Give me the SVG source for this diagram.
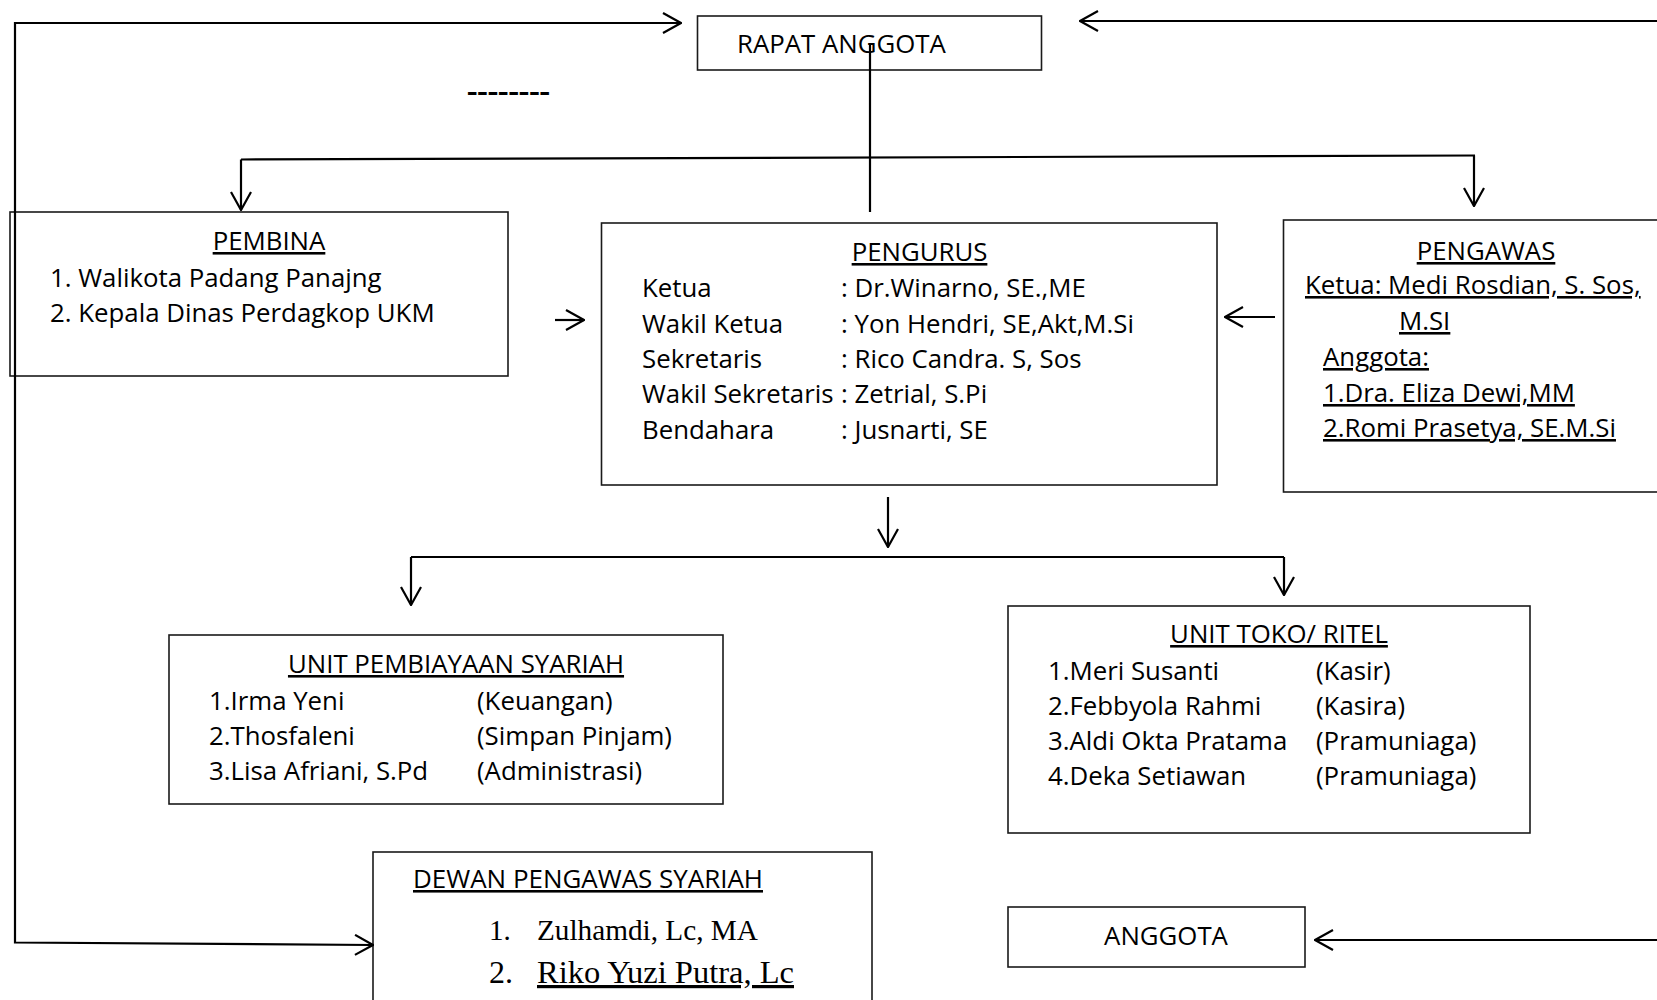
<svg xmlns="http://www.w3.org/2000/svg" width="1657" height="1000" viewBox="0 0 1657 1000">
<defs>
<style>
.box{fill:#fff;stroke:#1a1a1a;stroke-width:1.6}
.t{font-family:"Open Sans","Liberation Sans",sans-serif;font-size:25.8px;fill:#000}
.c{text-anchor:middle}
.u{text-decoration:underline;text-decoration-thickness:2.5px}
.serif{font-family:"Liberation Serif","Times New Roman",serif;fill:#000}
.ln{fill:none;stroke:#000;stroke-width:2.2}
</style>
<marker id="ah" viewBox="0 0 20 22" refX="19" refY="11" markerWidth="20" markerHeight="22" markerUnits="userSpaceOnUse" orient="auto">
<path d="M1,1 L19,11 L1,21" fill="none" stroke="#000" stroke-width="2.2"/>
</marker>
</defs>
<rect width="1657" height="1000" fill="#fff"/>

<g id="rapat-anggota">
<rect class="box" x="697.5" y="16" width="344" height="54"/>
<text class="t" x="737" y="53">RAPAT ANGGOTA</text>
</g>

<g id="pembina">
<rect class="box" x="10" y="212" width="498" height="164"/>
<text class="t c u" x="269" y="250">PEMBINA</text>
<text class="t" x="50" y="287">1. Walikota Padang Panajng</text>
<text class="t" x="50" y="322">2. Kepala Dinas Perdagkop UKM</text>
</g>

<g id="pengurus">
<rect class="box" x="601.5" y="223" width="615.5" height="262"/>
<text class="t c u" x="919.5" y="261">PENGURUS</text>
<text class="t" x="642" y="297">Ketua</text>
<text class="t" x="841" y="297">: Dr.Winarno, SE.,ME</text>
<text class="t" x="642" y="333">Wakil Ketua</text>
<text class="t" x="841" y="333">: Yon Hendri, SE,Akt,M.Si</text>
<text class="t" x="642" y="368">Sekretaris</text>
<text class="t" x="841" y="368">: Rico Candra. S, Sos</text>
<text class="t" x="642" y="403">Wakil Sekretaris</text>
<text class="t" x="841" y="403">: Zetrial, S.Pi</text>
<text class="t" x="642" y="439">Bendahara</text>
<text class="t" x="841" y="439">: Jusnarti, SE</text>
</g>

<g id="pengawas">
<rect class="box" x="1283.5" y="220" width="390" height="272"/>
<text class="t c u" x="1486" y="260">PENGAWAS</text>
<text class="t u" x="1305" y="294">Ketua: Medi Rosdian, S. Sos,</text>
<text class="t u" x="1399" y="330">M.SI</text>
<text class="t u" x="1323" y="366">Anggota:</text>
<text class="t u" x="1323" y="402">1.Dra. Eliza Dewi,MM</text>
<text class="t u" x="1323" y="437">2.Romi Prasetya, SE.M.Si</text>
</g>

<g id="unit-pembiayaan-syariah">
<rect class="box" x="169" y="635" width="554" height="169"/>
<text class="t c u" x="456" y="673">UNIT PEMBIAYAAN SYARIAH</text>
<text class="t" x="209" y="710">1.Irma Yeni</text>
<text class="t" x="477" y="710">(Keuangan)</text>
<text class="t" x="209" y="745">2.Thosfaleni</text>
<text class="t" x="477" y="745">(Simpan Pinjam)</text>
<text class="t" x="209" y="780">3.Lisa Afriani, S.Pd</text>
<text class="t" x="477" y="780">(Administrasi)</text>
</g>

<g id="unit-toko-ritel">
<rect class="box" x="1008" y="606" width="522" height="227"/>
<text class="t c u" x="1279" y="643">UNIT TOKO/ RITEL</text>
<text class="t" x="1048" y="680">1.Meri Susanti</text>
<text class="t" x="1316" y="680">(Kasir)</text>
<text class="t" x="1048" y="715">2.Febbyola Rahmi</text>
<text class="t" x="1316" y="715">(Kasira)</text>
<text class="t" x="1048" y="750">3.Aldi Okta Pratama</text>
<text class="t" x="1316" y="750">(Pramuniaga)</text>
<text class="t" x="1048" y="785">4.Deka Setiawan</text>
<text class="t" x="1316" y="785">(Pramuniaga)</text>
</g>

<g id="dewan-pengawas-syariah">
<rect class="box" x="373" y="852" width="499" height="160"/>
<text class="t u" x="413" y="888" textLength="350" lengthAdjust="spacingAndGlyphs">DEWAN PENGAWAS SYARIAH</text>
<text class="serif" x="489" y="940" font-size="29">1.</text>
<text class="serif" x="537" y="940" font-size="29" textLength="221" lengthAdjust="spacingAndGlyphs">Zulhamdi, Lc, MA</text>
<text class="serif" x="489" y="983" font-size="32">2.</text>
<text class="serif u" x="537" y="983" font-size="32" textLength="257" lengthAdjust="spacingAndGlyphs">Riko Yuzi Putra, Lc</text>
</g>

<g id="anggota">
<rect class="box" x="1008" y="907" width="297" height="60"/>
<text class="t c" x="1166" y="945">ANGGOTA</text>
</g>

<g id="dashes">
<text class="t" x="467" y="100" font-weight="bold" textLength="83" lengthAdjust="spacingAndGlyphs">--------</text>
</g>

<g id="connectors">
<path class="ln" d="M15,480 V23 H681" marker-end="url(#ah)"/>
<path class="ln" d="M15,480 V942.5 L373,945" marker-end="url(#ah)"/>
<path class="ln" d="M1657,21 H1080" marker-end="url(#ah)"/>
<path class="ln" d="M870,43 V212"/>
<path class="ln" d="M241,159.5 L1475,155.5"/>
<path class="ln" d="M241,159.5 V210" marker-end="url(#ah)"/>
<path class="ln" d="M1474,155.5 V206" marker-end="url(#ah)"/>
<path class="ln" d="M555,320 H584" marker-end="url(#ah)"/>
<path class="ln" d="M1275,317 H1225" marker-end="url(#ah)"/>
<path class="ln" d="M888,497 V547" marker-end="url(#ah)"/>
<path class="ln" d="M411,557 H1284"/>
<path class="ln" d="M411,557 V605" marker-end="url(#ah)"/>
<path class="ln" d="M1284,557 V595" marker-end="url(#ah)"/>
<path class="ln" d="M1657,940 H1315" marker-end="url(#ah)"/>
</g>
</svg>
